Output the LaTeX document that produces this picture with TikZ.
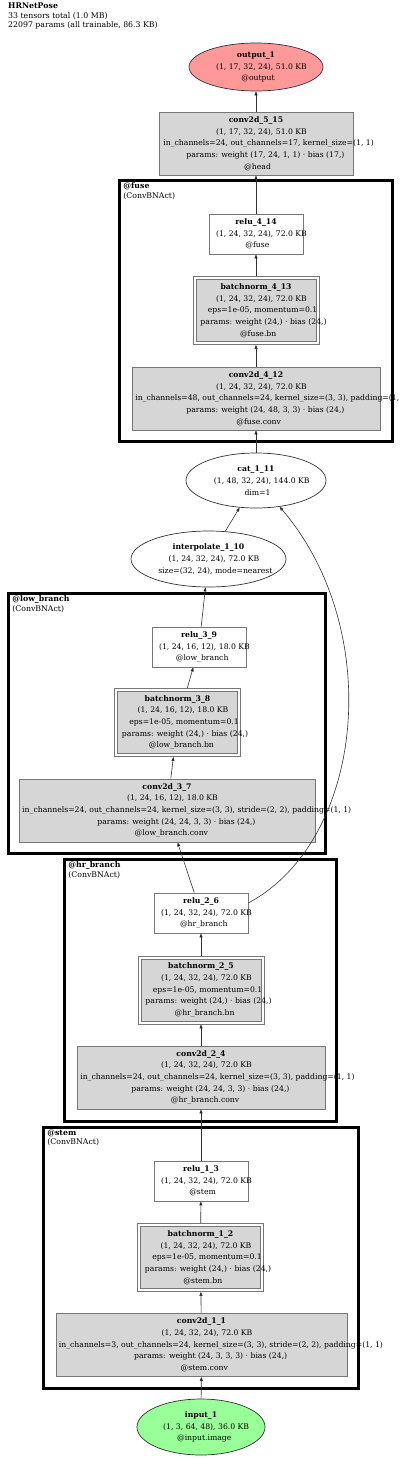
\documentclass[tikz,border=0pt]{standalone}
\usepackage{fontspec}
\setmainfont{DejaVu Serif}
\usetikzlibrary{arrows.meta,shapes.geometric}
\definecolor{boxgray}{HTML}{D6D6D6}
\definecolor{outred}{HTML}{FF9999}
\definecolor{ingreen}{HTML}{99FF99}
\definecolor{rim}{HTML}{777777}
\newlength{\wlw}
\newcommand{\wl}[1]{\settowidth{\wlw}{#1}\makebox[0pt][l]{\hspace{-0.44\wlw}#1}}

\begin{document}
\begin{tikzpicture}[x=1pt,y=-1pt,
	every node/.style={font=\fontsize{7.7}{11.7}\selectfont,align=center,inner sep=0pt},
	opbox/.style={rectangle,draw=rim,line width=0.8pt,fill=boxgray,minimum height=63pt},
	actbox/.style={rectangle,draw=rim,line width=0.8pt,fill=white,minimum width=94pt,minimum height=40pt},
	bnbox/.style={rectangle,draw=rim,line width=0.8pt,fill=white,minimum width=126pt,minimum height=68pt,
		path picture={\draw[rim,line width=0.8pt,fill=boxgray] ([shift={(3pt,-3pt)}]path picture bounding box.north west) rectangle ([shift={(-3pt,3pt)}]path picture bounding box.south east);}},
	tensor/.style={ellipse,draw=black!80,line width=0.7pt},
	cluster/.style={rectangle,draw=black,line width=2.8pt},
	clabel/.style={anchor=north west,font=\fontsize{7.8}{9.3}\selectfont,align=left},
	flow/.style={draw=black!80,line width=0.6pt,-{Triangle[length=4pt,width=3pt]}}]
	\useasboundingbox (0,0) rectangle (400,1459);
	\node[clabel] (title) at (8,3) {\textbf{HRNetPose}\\33 tensors total (1.0 MB)\\22097 params (all trainable, 86.3 KB)};

	\node[cluster,minimum width=273pt,minimum height=261pt] (fuse) at (256,311) {};
	\node[cluster,minimum width=317pt,minimum height=260pt] (lowbranch) at (167,723.5) {};
	\node[cluster,minimum width=272pt,minimum height=262pt] (hrbranch) at (200.5,990.5) {};
	\node[cluster,minimum width=315pt,minimum height=261pt] (stem) at (201,1258) {};
	\node[clabel] at ([shift={(5,3.5)}]fuse.north west) {\textbf{@fuse}\\(ConvBNAct)};
	\node[clabel] at ([shift={(5,3.5)}]lowbranch.north west) {\textbf{@low\_branch}\\(ConvBNAct)};
	\node[clabel] at ([shift={(5,3.5)}]hrbranch.north west) {\textbf{@hr\_branch}\\(ConvBNAct)};
	\node[clabel] at ([shift={(5,3.5)}]stem.north west) {\textbf{@stem}\\(ConvBNAct)};

	\node[tensor,fill=outred,minimum width=134pt,minimum height=48pt] (output1) at (256,67) {\textbf{output\_1}\\\wl{(1, 17, 32, 24), 51.0 KB}\\\wl{@output}};
	\node[opbox,minimum width=194pt] (conv515) at (256,143.5) {\textbf{conv2d\_5\_15}\\\wl{(1, 17, 32, 24), 51.0 KB}\\\wl{in\_channels=24, out\_channels=17, kernel\_size=(1, 1)}\\\wl{params: weight (17, 24, 1, 1) · bias (17,)}\\\wl{@head}};
	\node[actbox] (relu414) at (256,234) {\textbf{relu\_4\_14}\\\wl{(1, 24, 32, 24), 72.0 KB}\\\wl{@fuse}};
	\node[bnbox] (bn413) at (256,310.5) {\textbf{batchnorm\_4\_13}\\\wl{(1, 24, 32, 24), 72.0 KB}\\\wl{eps=1e-05, momentum=0.1}\\\wl{params: weight (24,) · bias (24,)}\\\wl{@fuse.bn}};
	\node[opbox,minimum width=248pt] (conv412) at (256,398.5) {\textbf{conv2d\_4\_12}\\\wl{(1, 24, 32, 24), 72.0 KB}\\\wl{in\_channels=48, out\_channels=24, kernel\_size=(3, 3), padding=(1, 1)}\\\wl{params: weight (24, 48, 3, 3) · bias (24,)}\\\wl{@fuse.conv}};
	\node[tensor,minimum width=140pt,minimum height=55pt] (cat111) at (256,480.5) {\textbf{cat\_1\_11}\\\wl{(1, 48, 32, 24), 144.0 KB}\\\wl{dim=1}};
	\node[tensor,minimum width=155pt,minimum height=56pt] (interp110) at (208.5,559) {\textbf{interpolate\_1\_10}\\\wl{(1, 24, 32, 24), 72.0 KB}\\\wl{size=(32, 24), mode=nearest}};

	\node[actbox] (relu39) at (199,647) {\textbf{relu\_3\_9}\\\wl{(1, 24, 16, 12), 18.0 KB}\\\wl{@low\_branch}};
	\node[bnbox] (bn38) at (177.5,722.5) {\textbf{batchnorm\_3\_8}\\\wl{(1, 24, 16, 12), 18.0 KB}\\\wl{eps=1e-05, momentum=0.1}\\\wl{params: weight (24,) · bias (24,)}\\\wl{@low\_branch.bn}};
	\node[opbox,minimum width=296pt] (conv37) at (167,810.5) {\textbf{conv2d\_3\_7}\\\wl{(1, 24, 16, 12), 18.0 KB}\\\wl{in\_channels=24, out\_channels=24, kernel\_size=(3, 3), stride=(2, 2), padding=(1, 1)}\\\wl{params: weight (24, 24, 3, 3) · bias (24,)}\\\wl{@low\_branch.conv}};

	\node[actbox] (relu26) at (201,913) {\textbf{relu\_2\_6}\\\wl{(1, 24, 32, 24), 72.0 KB}\\\wl{@hr\_branch}};
	\node[bnbox] (bn25) at (201,990) {\textbf{batchnorm\_2\_5}\\\wl{(1, 24, 32, 24), 72.0 KB}\\\wl{eps=1e-05, momentum=0.1}\\\wl{params: weight (24,) · bias (24,)}\\\wl{@hr\_branch.bn}};
	\node[opbox,minimum width=248pt] (conv24) at (201,1077.5) {\textbf{conv2d\_2\_4}\\\wl{(1, 24, 32, 24), 72.0 KB}\\\wl{in\_channels=24, out\_channels=24, kernel\_size=(3, 3), padding=(1, 1)}\\\wl{params: weight (24, 24, 3, 3) · bias (24,)}\\\wl{@hr\_branch.conv}};

	\node[actbox] (relu13) at (201,1181) {\textbf{relu\_1\_3}\\\wl{(1, 24, 32, 24), 72.0 KB}\\\wl{@stem}};
	\node[bnbox] (bn12) at (200.5,1257.5) {\textbf{batchnorm\_1\_2}\\\wl{(1, 24, 32, 24), 72.0 KB}\\\wl{eps=1e-05, momentum=0.1}\\\wl{params: weight (24,) · bias (24,)}\\\wl{@stem.bn}};
	\node[opbox,minimum width=291pt] (conv11) at (201.5,1345) {\textbf{conv2d\_1\_1}\\\wl{(1, 24, 32, 24), 72.0 KB}\\\wl{in\_channels=3, out\_channels=24, kernel\_size=(3, 3), stride=(2, 2), padding=(1, 1)}\\\wl{params: weight (24, 3, 3, 3) · bias (24,)}\\\wl{@stem.conv}};
	\node[tensor,fill=ingreen,minimum width=128pt,minimum height=56pt] (input1) at (201,1427) {\textbf{input\_1}\\\wl{(1, 3, 64, 48), 36.0 KB}\\\wl{@input.image}};

	\draw [flow] (input1) edge (conv11);
	\draw [flow] (conv11) edge (bn12);
	\draw [flow] (bn12) edge (relu13);
	\draw [flow] (relu13) edge (conv24);
	\draw [flow] (conv24) edge (bn25);
	\draw [flow] (bn25) edge (relu26);
	\draw [flow] (relu26) edge (conv37);
	\draw [flow] (conv37) edge (bn38);
	\draw [flow] (bn38) edge (relu39);
	\draw [flow] (relu39) edge (interp110);
	\draw [flow] (interp110) edge (cat111);
	\draw [flow] ([yshift=10pt]relu26.east) .. controls (365,840) and (385,630) .. (cat111.-48);
	\draw [flow] (cat111) edge (conv412);
	\draw [flow] (conv412) edge (bn413);
	\draw [flow] (bn413) edge (relu414);
	\draw [flow] (relu414) edge (conv515);
	\draw [flow] (conv515) edge (output1);
\end{tikzpicture}
\end{document}
